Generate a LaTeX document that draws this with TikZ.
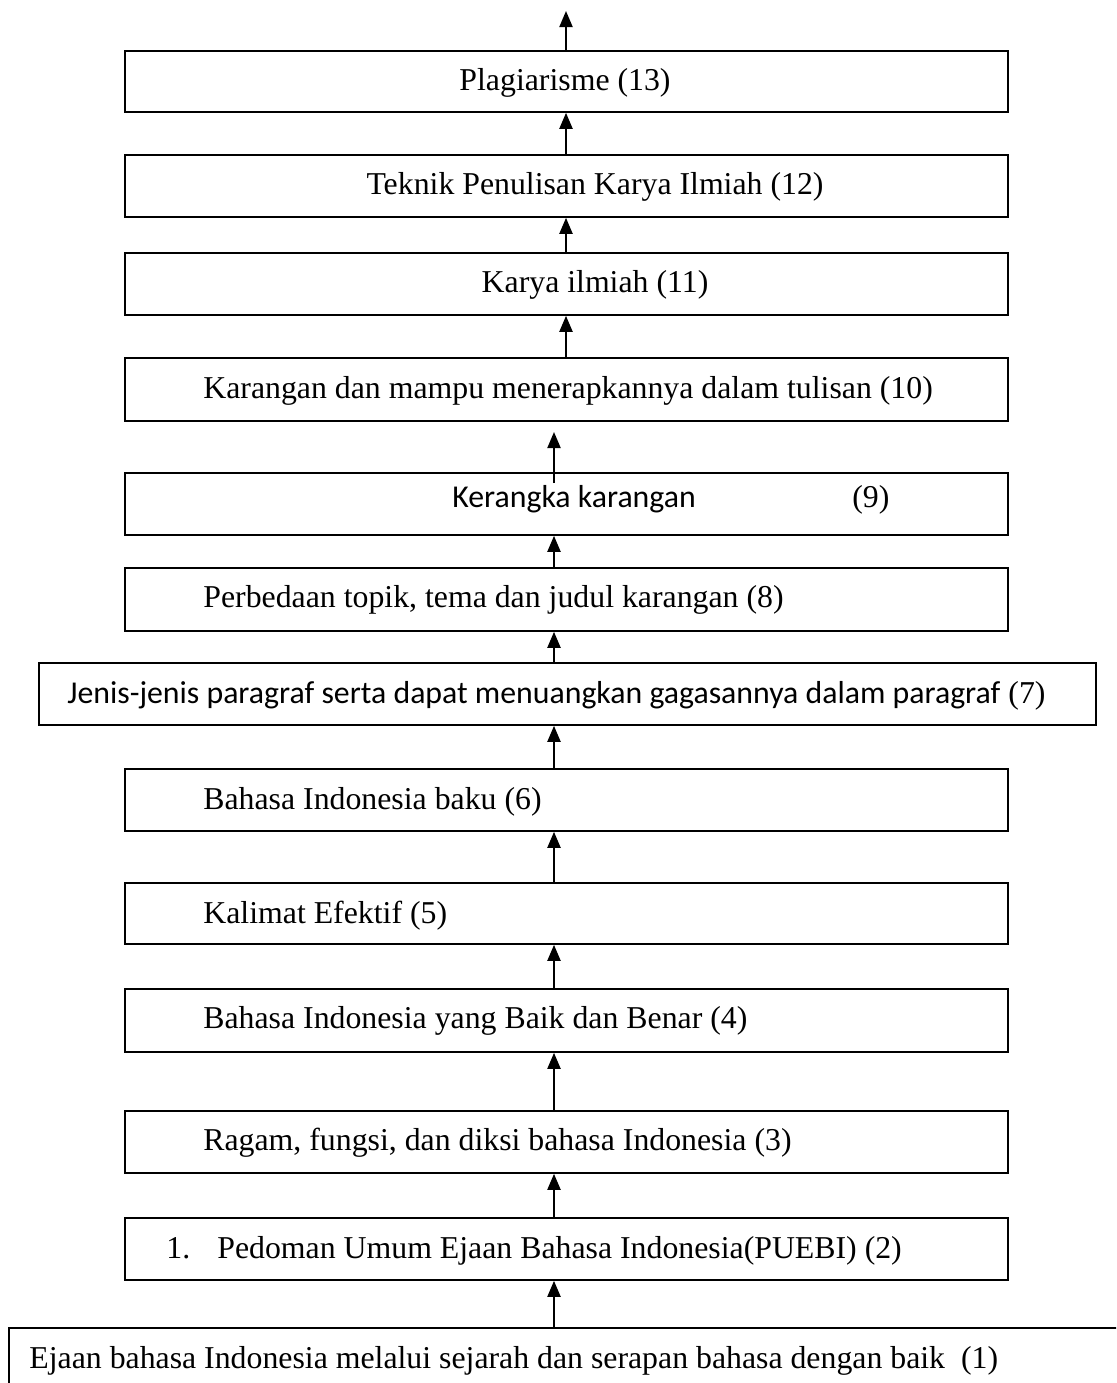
\documentclass[tikz,border=0pt]{standalone}
\usepackage{fontspec}
\setmainfont{Liberation Serif}
\newfontfamily\calfont{Carlito}
\usetikzlibrary{arrows.meta}
\tikzset{
  box/.style={draw=black, line width=0.8pt, inner sep=0pt, fill=white},
  txt/.style={anchor=base west, inner sep=0pt, font=\fontsize{15.9}{19}\selectfont},
  ctxt/.style={anchor=base, inner sep=0pt, font=\fontsize{15.9}{19}\selectfont},
  arr/.style={line width=1pt, -{Triangle[length=8pt,width=6.5pt]}}
}
\newcommand\mybox[5]{\node[box,minimum width={(#3-#2)*0.5pt},minimum height={(#5-#4)*0.5pt}] (#1) at ({(#2+#3)/2},{(#4+#5)/2}) {};}
\begin{document}
\begin{tikzpicture}[x=0.5pt,y=-0.5pt]
\useasboundingbox (0,0) rectangle (1116,1383);
\clip (0,0) rectangle (1116,1383);
% boxes
\mybox{b13}{125}{1008}{51}{112}
\mybox{b12}{125}{1008}{155}{217}
\mybox{b11}{125}{1008}{253}{315}
\mybox{b10}{125}{1008}{358}{421}
\mybox{b9}{125}{1008}{473}{535}
\mybox{b8}{125}{1008}{568}{631}
\mybox{b7}{39}{1096}{663}{725}
\mybox{b6}{125}{1008}{769}{831}
\mybox{b5}{125}{1008}{883}{944}
\mybox{b4}{125}{1008}{989}{1052}
\mybox{b3}{125}{1008}{1111}{1173}
\mybox{b2}{125}{1008}{1218}{1280}
\mybox{b1}{9}{1140}{1328}{1420}
% texts
\node[ctxt] (t13) at (565,90) {Plagiarisme (13)};
\node[ctxt] (t12) at (595,194) {Teknik Penulisan Karya Ilmiah (12)};
\node[ctxt] (t11) at (595,292) {Karya ilmiah (11)};
\node[txt] (t10) at (203,398) {Karangan dan mampu menerapkannya dalam tulisan (10)};
\node[txt] (t9) at (452,507) {\makebox[200pt][l]{\calfont Kerangka karangan}(9)};
\node[txt] (t8) at (203,607) {Perbedaan topik, tema dan judul karangan (8)};
\node[txt] (t7) at (67,703) {{\calfont Jenis-jenis paragraf serta dapat menuangkan gagasannya dalam paragraf} (7)};
\node[txt] (t6) at (203,809) {Bahasa Indonesia baku (6)};
\node[txt] (t5) at (203,923) {Kalimat Efektif (5)};
\node[txt] (t4) at (203,1028) {Bahasa Indonesia yang Baik dan Benar (4)};
\node[txt] (t3) at (203,1150) {Ragam, fungsi, dan diksi bahasa Indonesia (3)};
\node[txt] (t2) at (166,1258) {\makebox[25.5pt][l]{1.}Pedoman Umum Ejaan Bahasa Indonesia(PUEBI) (2)};
\node[txt] (t1) at (29,1368) {Ejaan bahasa Indonesia melalui sejarah dan serapan bahasa dengan baik\ \ (1)};
% arrow columns
\coordinate (xa) at (566,0);
\coordinate (xb) at (554,0);
\coordinate (top) at (566,11);
\coordinate (a4s) at (554,483);
\coordinate (a4e) at (554,432);
% arrows
\draw[arr] (xa |- b13.north) -- (top);
\draw[arr] (xa |- b12.north) -- (xa |- b13.south);
\draw[arr] (xa |- b11.north) -- (xa |- b12.south);
\draw[arr] (xa |- b10.north) -- (xa |- b11.south);
\draw[arr] (a4s) -- (a4e);
\draw[arr] (xb |- b8.north) -- (xb |- b9.south);
\draw[arr] (xb |- b7.north) -- (xb |- b8.south);
\draw[arr] (xb |- b6.north) -- (xb |- b7.south);
\draw[arr] (xb |- b5.north) -- (xb |- b6.south);
\draw[arr] (xb |- b4.north) -- (xb |- b5.south);
\draw[arr] (xb |- b3.north) -- (xb |- b4.south);
\draw[arr] (xb |- b2.north) -- (xb |- b3.south);
\draw[arr] (xb |- b1.north) -- (xb |- b2.south);
\end{tikzpicture}
\end{document}
